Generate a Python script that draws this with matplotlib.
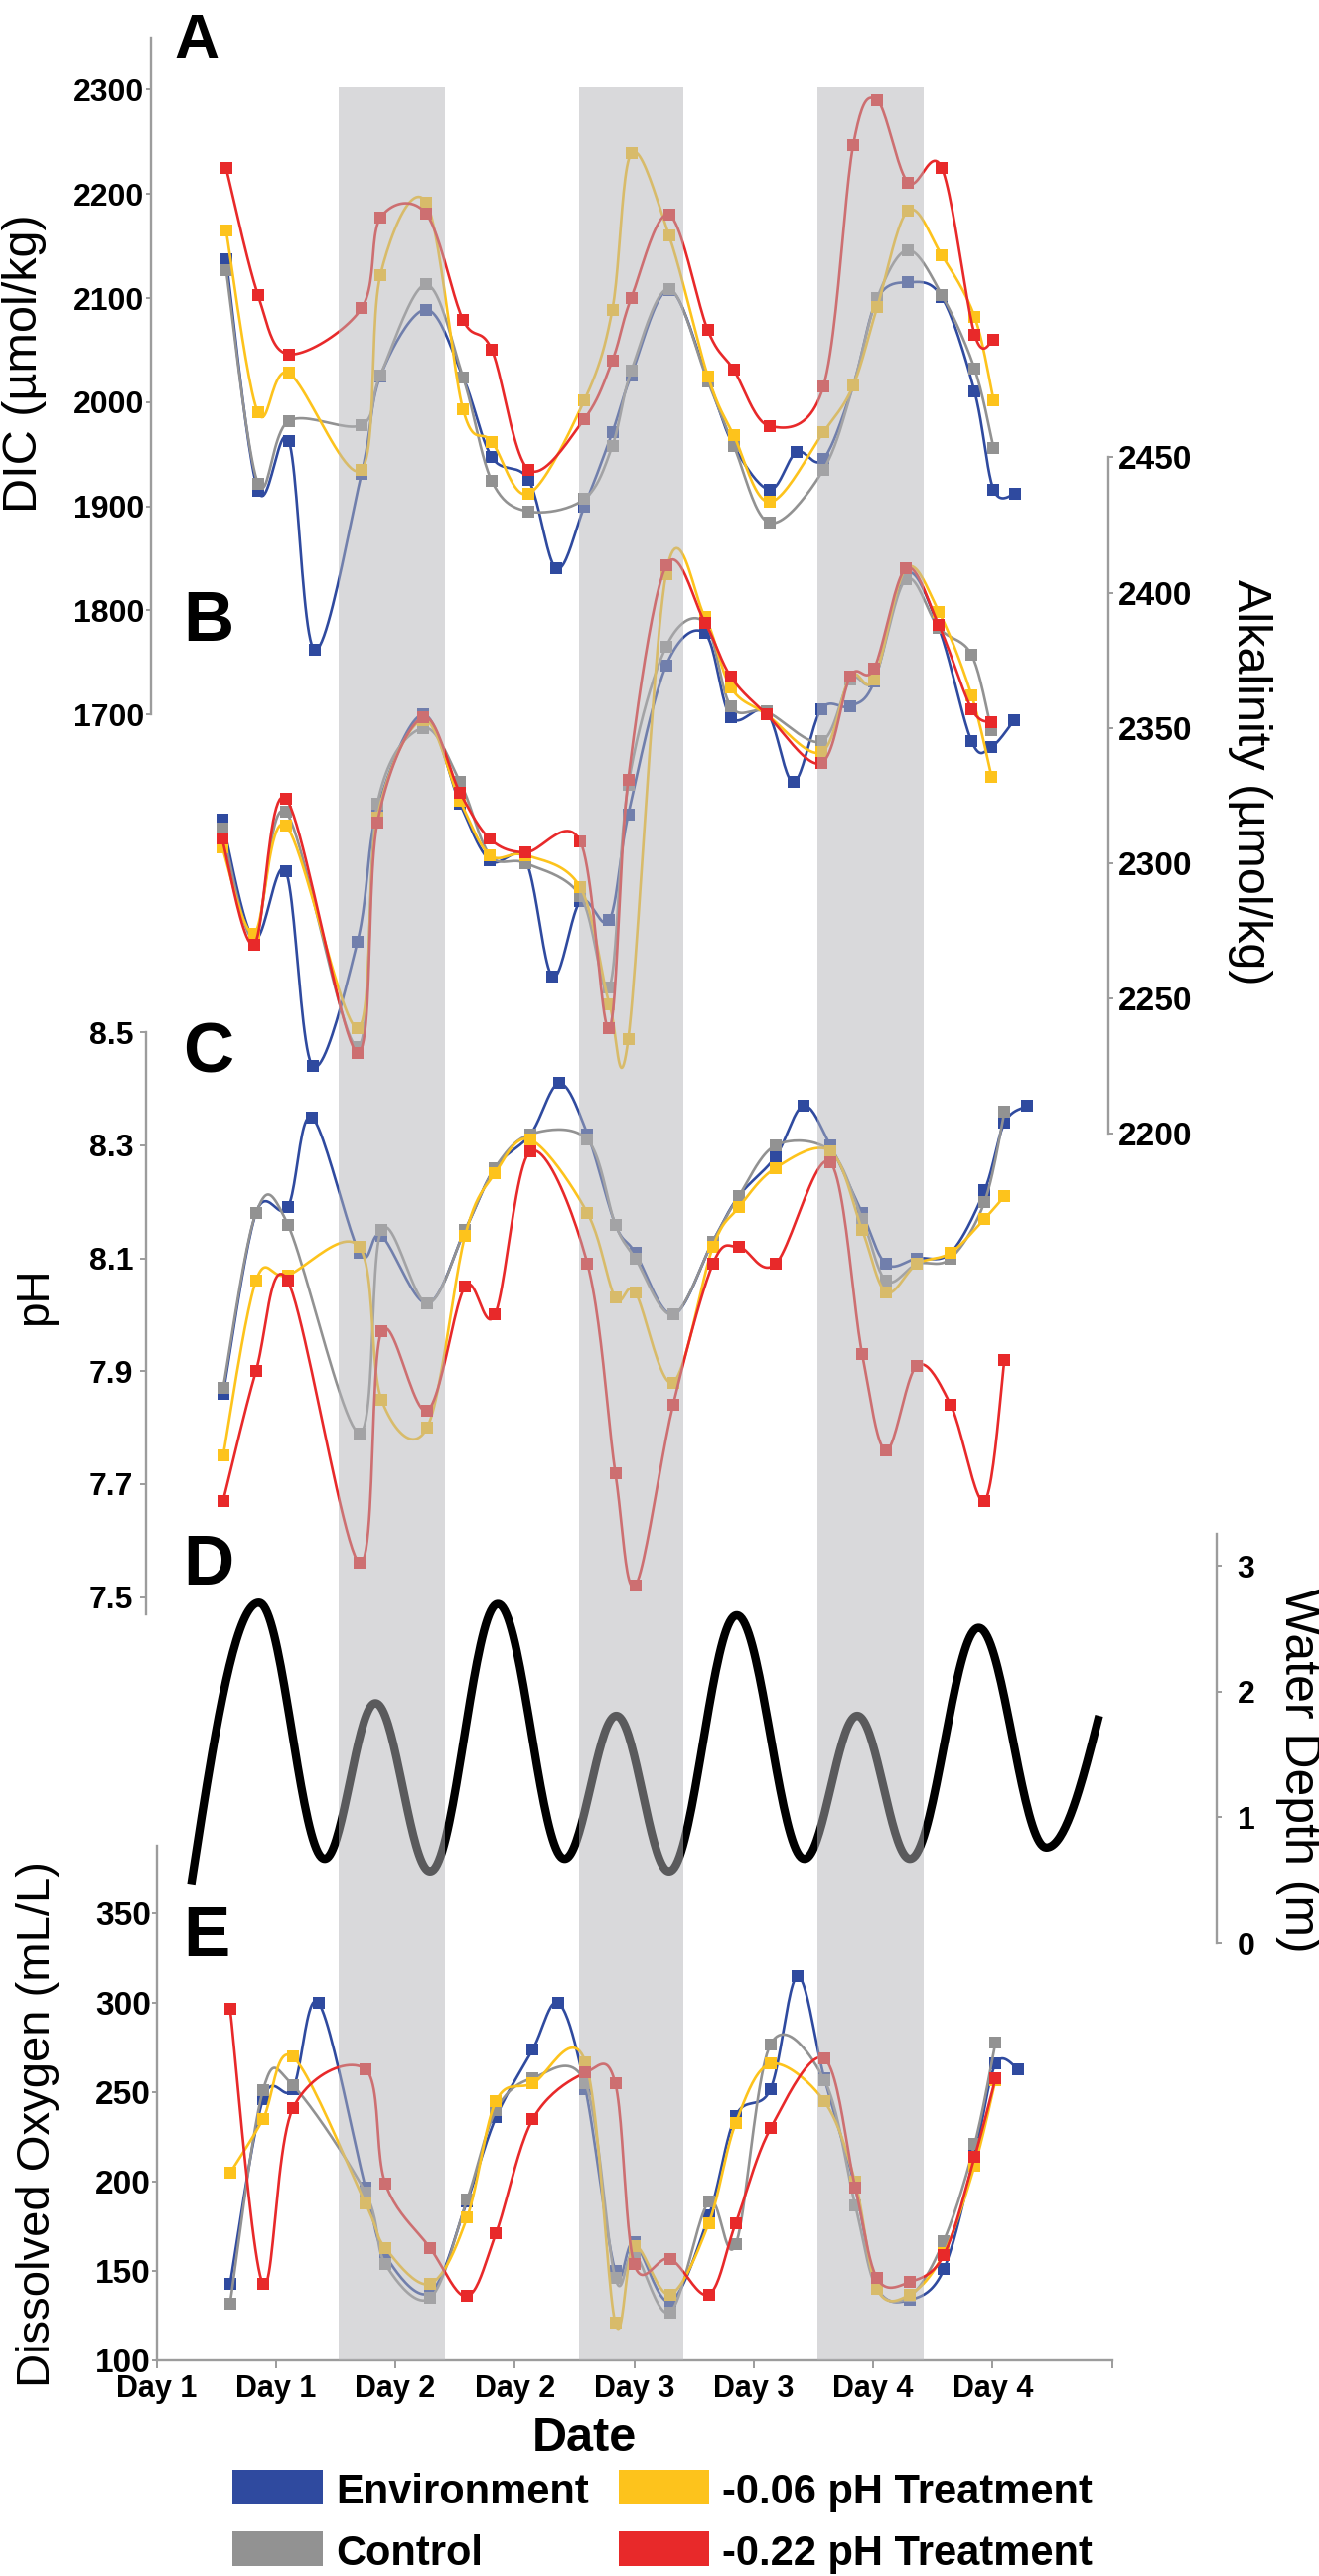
import numpy as np
import matplotlib
matplotlib.use("Agg")
import matplotlib.pyplot as plt
from matplotlib.patches import Rectangle

plt.rcParams["font.family"] = ["Liberation Sans", "DejaVu Sans"]
plt.rcParams["font.weight"] = "bold"

nan = np.nan

# sampling times, hours after the start of Day 1 (read separately for each panel)
t_dic = [7.0, 10.2, 13.3, 15.9, 20.6, 22.5, 27.1, 30.8, 33.7, 37.4, 40.2, 43.0, 45.8, 47.7,
         51.5, 55.4, 58.0, 61.6, 64.3, 67.0, 70.0, 72.4, 75.5, 78.9, 82.2, 84.1, 86.3]
t_alk = [6.6, 9.8, 13.0, 15.7, 20.2, 22.2, 26.8, 30.5, 33.5, 37.1, 39.8, 42.6, 45.5, 47.4,
         51.2, 55.1, 57.7, 61.3, 64.0, 66.8, 69.7, 72.1, 75.3, 78.6, 81.9, 83.9, 86.2]
t_ph = [6.7, 10.0, 13.2, 15.6, 20.4, 22.6, 27.2, 31.0, 34.0, 37.6, 40.5, 43.3, 46.1, 48.1,
        51.9, 55.9, 58.5, 62.2, 65.0, 67.7, 70.9, 73.3, 76.4, 79.8, 83.2, 85.2, 87.5]
t_do = [7.4, 10.7, 13.7, 16.3, 21.0, 23.0, 27.5, 31.2, 34.1, 37.8, 40.4, 43.1, 46.1, 48.0,
        51.6, 55.5, 58.2, 61.7, 64.4, 67.1, 70.2, 72.4, 75.7, 79.1, 82.2, 84.3, 86.6]

# A: DIC (umol/kg)
dic_env = [2137, 1915, 1963, 1762, 1931, 2025, 2089, 2024, 1947, 1925, 1840, 1900, 1971, 2026,
           2108, 2022, 1958, 1916, 1952, 1945, 2016, 2099, 2115, 2101, 2010, 1916, 1912]
dic_ctrl = [2127, 1922, 1982, nan, 1978, 2026, 2113, 2024, 1924, 1895, nan, 1907, 1958, 2030,
            2109, 2020, 1958, 1884, nan, 1935, 2016, 2100, 2146, 2103, 2032, 1956, nan]
dic_006 = [2165, 1990, 2028, nan, 1935, 2122, 2192, 1993, 1962, 1912, nan, 2002, 2089, 2239,
           2160, 2025, 1968, 1904, nan, 1971, 2016, 2091, 2184, 2141, 2082, 2002, nan]
dic_022 = [2225, 2103, 2046, nan, 2090, 2177, 2181, 2079, 2050, 1935, nan, 1984, 2040, 2100,
           2180, 2069, 2031, 1977, nan, 2015, 2247, 2290, 2211, 2225, 2065, 2060, nan]

# B: total alkalinity (umol/kg)
alk_env = [2316, 2272, 2297, 2225, 2271, 2320, 2355, 2322, 2301, 2301, 2258, 2286, 2279, 2318,
           2373, 2385, 2354, 2356, 2330, 2357, 2358, 2367, 2407, 2387, 2345, 2343, 2353]
alk_ctrl = [2313, 2272, 2319, nan, 2232, 2322, 2350, 2330, 2303, 2300, nan, 2288, 2254, 2329,
            2380, 2389, 2358, 2356, nan, 2345, 2368, 2368, 2405, 2387, 2377, 2349, nan]
alk_006 = [2306, 2274, 2314, nan, 2239, 2317, 2353, 2323, 2303, 2303, nan, 2291, 2248, 2235,
           2407, 2391, 2365, 2355, nan, 2341, 2369, 2368, 2409, 2393, 2362, 2332, nan]
alk_022 = [2309, 2270, 2324, nan, 2230, 2315, 2354, 2326, 2309, 2304, nan, 2308, 2239, 2331,
           2410, 2389, 2369, 2355, nan, 2337, 2369, 2372, 2409, 2388, 2357, 2352, nan]

# C: pH
ph_env = [7.86, 8.18, 8.19, 8.35, 8.11, 8.14, 8.02, 8.15, 8.26, 8.32, 8.41, 8.32, 8.16, 8.11,
          8.00, 8.13, 8.21, 8.28, 8.37, 8.30, 8.18, 8.09, 8.10, 8.11, 8.22, 8.34, 8.37]
ph_ctrl = [7.87, 8.18, 8.16, nan, 7.79, 8.15, 8.02, 8.15, 8.26, 8.32, nan, 8.31, 8.16, 8.10,
           8.00, 8.13, 8.21, 8.30, nan, 8.29, 8.17, 8.06, 8.09, 8.10, 8.20, 8.36, nan]
ph_006 = [7.75, 8.06, 8.07, nan, 8.12, 7.85, 7.80, 8.14, 8.25, 8.31, nan, 8.18, 8.03, 8.04,
          7.88, 8.12, 8.19, 8.26, nan, 8.29, 8.15, 8.04, 8.09, 8.11, 8.17, 8.21, nan]
ph_022 = [7.67, 7.90, 8.06, nan, 7.56, 7.97, 7.83, 8.05, 8.00, 8.29, nan, 8.09, 7.72, 7.52,
          7.84, 8.09, 8.12, 8.09, nan, 8.27, 7.93, 7.76, 7.91, 7.84, 7.67, 7.92, nan]

# D: water depth (m), start, successive highs and lows of the tide, end
tide_t = [3.5, 10.3, 16.9, 22.0, 27.5, 34.3, 41.0, 46.2, 51.5, 58.3, 65.1, 70.4, 75.7, 82.6, 89.4, 94.7]
tide_d = [0.47, 2.71, 0.67, 1.91, 0.57, 2.70, 0.67, 1.81, 0.57, 2.61, 0.67, 1.81, 0.67, 2.51, 0.76, 1.81]

# E: dissolved oxygen (mL/L)
do_env = [143, 246, 252, 300, 197, 159, 138, 189, 236, 274, 300, 252, 150, 166,
          133, 181, 237, 252, 315, 258, 197, 141, 134, 151, 215, 266, 263]
do_ctrl = [132, 251, 254, nan, 194, 154, 135, 190, 240, 258, nan, 255, 146, 160,
           127, 189, 165, 277, nan, 257, 187, 140, 136, 167, 221, 278, nan]
do_006 = [205, 235, 270, nan, 188, 163, 143, 180, 245, 255, nan, 267, 121, 164,
          137, 177, 233, 266, nan, 245, 200, 140, 137, 160, 209, 257, nan]
do_022 = [297, 143, 241, nan, 263, 199, 163, 136, 171, 235, nan, 261, 255, 154,
          157, 137, 177, 230, nan, 269, 197, 146, 144, 159, 214, 258, nan]

# shaded (night) periods, hours
night_start = [18.3, 42.5, 66.4]
night_end = [29.0, 52.9, 77.1]

x_ticks = [0, 12, 24, 36, 48, 60, 72, 84, 96]
x_labels = ["Day 1", "Day 1", "Day 2", "Day 2", "Day 3", "Day 3", "Day 4", "Day 4", ""]

series_names = ["Environment", "Control", "-0.06 pH Treatment", "-0.22 pH Treatment"]
series_colors = ["#2f4a9f", "#929292", "#fdc31c", "#e8292a"]

W, H = 1328, 2593
X0, X1 = 157.5, 1119.6          # pixel columns of 0 h and 96 h
GRAY = "#9c9c9c"

fig = plt.figure(figsize=(W / 100, H / 100), dpi=100)


def px_rect(top, bottom, left=X0, right=X1):
    return [left / W, 1 - bottom / H, (right - left) / W, (bottom - top) / H]


def fxy(x, y):
    return x / W, 1 - y / H


def smooth(t, v, n=24):
    # Excel-style smoothed line (Catmull-Rom as cubic Bezier) through the read points
    t = np.asarray(t, float)
    v = np.asarray(v, float)
    ok = ~np.isnan(v)
    p = np.column_stack([t[ok], v[ok]])
    p = np.vstack([p[:1], p, p[-1:]])
    s = np.linspace(0, 1, n)[:, None]
    out = []
    for i in range(1, len(p) - 2):
        c1 = p[i] + (p[i + 1] - p[i - 1]) / 6
        c2 = p[i + 1] - (p[i + 2] - p[i]) / 6
        out.append((1 - s) ** 3 * p[i] + 3 * (1 - s) ** 2 * s * c1
                   + 3 * (1 - s) * s ** 2 * c2 + s ** 3 * p[i + 1])
    out = np.vstack(out)
    return out[:, 0], out[:, 1]


def tide_curve(t, d, n=40):
    # cosine-shaped run between highs and lows; the first and last runs are
    # quarter waves because the record starts and ends mid-tide
    xs, ys = [], []
    s = np.linspace(0, 1, n)
    last = len(t) - 2
    for i in range(len(t) - 1):
        if i == 0:
            w = np.sin(np.pi / 2 * s)
        elif i == last:
            w = 1 - np.cos(np.pi / 2 * s)
        else:
            w = (1 - np.cos(np.pi * s)) / 2
        xs.append(t[i] + (t[i + 1] - t[i]) * s)
        ys.append(d[i] + (d[i + 1] - d[i]) * w)
    return np.concatenate(xs), np.concatenate(ys)


def new_axes(top, bottom, ylim):
    ax = fig.add_axes(px_rect(top, bottom))
    ax.set_xlim(0, 96)
    ax.set_ylim(*ylim)
    ax.patch.set_visible(False)
    for sp in ax.spines.values():
        sp.set_visible(False)
    ax.tick_params(axis="x", bottom=False, labelbottom=False)
    return ax


def left_axis(ax, ticks, fmt, size, offset_px, pad, length=3.6):
    sp = ax.spines["left"]
    sp.set_visible(True)
    sp.set_color(GRAY)
    sp.set_linewidth(1.7)
    sp.set_position(("outward", offset_px * 0.72))
    ax.set_yticks(ticks)
    ax.set_yticklabels([fmt.format(v) for v in ticks])
    ax.tick_params(axis="y", direction="out", length=length, width=1.4, color=GRAY,
                   labelsize=size, pad=pad)


def right_axis(ax, ticks, fmt, size, x_px, pad):
    sp = ax.spines["right"]
    sp.set_visible(True)
    sp.set_color(GRAY)
    sp.set_linewidth(1.7)
    sp.set_position(("axes", (x_px - X0) / (X1 - X0)))
    ax.yaxis.tick_right()
    ax.set_yticks(ticks)
    ax.set_yticklabels([fmt.format(v) for v in ticks])
    ax.tick_params(axis="y", direction="out", length=3.6, width=1.4, color=GRAY,
                   labelsize=size, pad=pad)


def draw_panel(ax, t, groups):
    for k, (vals, color) in enumerate(zip(groups, series_colors)):
        xs, ys = smooth(t, vals)
        ax.plot(xs, ys, color=color, lw=1.9, zorder=2 + k, clip_on=False)
        ax.plot(t, vals, "s", color=color, ms=8.5, mew=0, zorder=2.5 + k, clip_on=False)


# A: DIC
ax_a = new_axes(38, 719.2, (1700, 2350))
left_axis(ax_a, list(range(1700, 2301, 100)), "{:d}", 23, 5.5, 1)
draw_panel(ax_a, t_dic, [dic_env, dic_ctrl, dic_006, dic_022])

# B: alkalinity (right axis)
ax_b = new_axes(460.4, 1141.3, (2200, 2450))
right_axis(ax_b, list(range(2200, 2451, 50)), "{:d}", 24, 1116, 3.5)
draw_panel(ax_b, t_alk, [alk_env, alk_ctrl, alk_006, alk_022])

# C: pH
ax_c = new_axes(1039.3, 1624.6, (7.47, 8.5))
left_axis(ax_c, [7.5, 7.7, 7.9, 8.1, 8.3, 8.5], "{:.1f}", 23, 10.5, 4.5, length=4.6)
draw_panel(ax_c, t_ph, [ph_env, ph_ctrl, ph_006, ph_022])

# D: water depth (right axis)
ax_d = new_axes(1543.6, 1956, (0, 3.26))
right_axis(ax_d, [0, 1, 2, 3], "{:d}", 23, 1225.3, 11)
tx, ty = tide_curve(tide_t, tide_d)
ax_d.plot(tx, ty, color="black", lw=6, clip_on=False, solid_capstyle="butt")

# E: dissolved oxygen with the date axis
ax_e = new_axes(1857.5, 2376.3, (100, 388.2))
left_axis(ax_e, list(range(100, 351, 50)), "{:d}", 24, 0, 0.5)
ax_e.spines["bottom"].set_visible(True)
ax_e.spines["bottom"].set_color(GRAY)
ax_e.spines["bottom"].set_linewidth(1.7)
ax_e.set_xticks(x_ticks)
ax_e.set_xticklabels(x_labels)
ax_e.tick_params(axis="x", bottom=True, labelbottom=True, direction="out", length=5.8,
                 width=1.4, color=GRAY, labelsize=22, pad=4)
draw_panel(ax_e, t_do, [do_env, do_ctrl, do_006, do_022])

# night shading drawn over the data, as in the original
ax_band = fig.add_axes(px_rect(88, 2376.3), zorder=10)
ax_band.set_xlim(0, 96)
ax_band.axis("off")
for a, b in zip(night_start, night_end):
    ax_band.axvspan(a, b, color="#b4b5b9", alpha=0.5, lw=0)

# axis titles
fig.text(*fxy(25, 366), "DIC (µmol/kg)", rotation=90, ha="center", va="center",
         fontsize=35, fontweight="normal")
fig.text(*fxy(35, 1305), "pH", rotation=90, ha="center", va="center",
         fontsize=33, fontweight="normal")
fig.text(*fxy(38, 2138), "Dissolved Oxygen (mL/L)", rotation=90, ha="center", va="center",
         fontsize=34, fontweight="normal")
fig.text(*fxy(1258, 787), "Alkalinity (µmol/kg)", rotation=270, ha="center", va="center",
         fontsize=35, fontweight="normal")
fig.text(*fxy(1307, 1782), "Water Depth (m)", rotation=270, ha="center", va="center",
         fontsize=36, fontweight="normal")
fig.text(*fxy(588, 2467), "Date", ha="center", va="baseline", fontsize=35)

# panel letters
fig.text(*fxy(175, 58), "A", ha="left", va="baseline", fontsize=45)
for letter, base in zip("BCDE", [645, 1080, 1595, 1969]):
    fig.text(*fxy(184, base), letter, ha="left", va="baseline", fontsize=51)

# legend
legend_pos = [(234, 2486), (234, 2548), (623, 2486), (623, 2548)]
for name, color, (lx, ly) in zip(series_names, series_colors, legend_pos):
    fig.add_artist(Rectangle(fxy(lx, ly + 35), 91 / W, 35 / H, transform=fig.transFigure,
                             color=color, lw=0))
    fig.text(*fxy(lx + 104, ly + 34), name, ha="left", va="baseline", fontsize=30)

fig.savefig("out.png", dpi=100)
